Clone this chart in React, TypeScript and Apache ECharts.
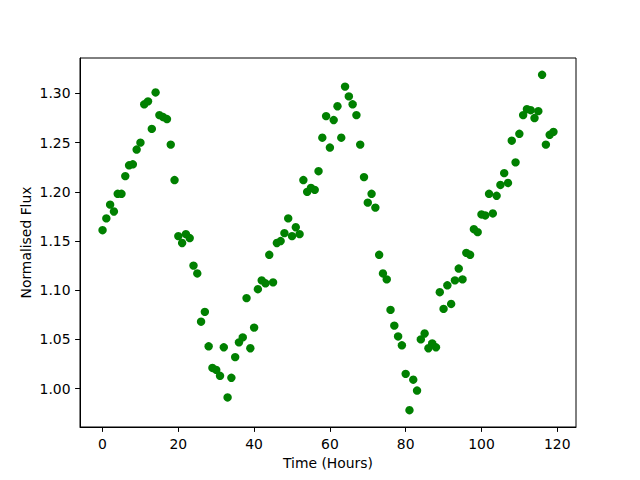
import React, { useEffect, useRef } from "react";
import * as echarts from "echarts";

const hours: number[] = Array.from({ length: 120 }, (_, i) => i);
const flux: number[] = [
  1.161, 1.173, 1.187, 1.18, 1.198, 1.198, 1.216, 1.227, 1.228, 1.243,
  1.25, 1.289, 1.292, 1.264, 1.301, 1.278, 1.276, 1.274, 1.248, 1.212,
  1.155, 1.148, 1.157, 1.153, 1.125, 1.117, 1.068, 1.078, 1.043, 1.021,
  1.019, 1.013, 1.042, 0.991, 1.011, 1.032, 1.047, 1.052, 1.092, 1.041,
  1.062, 1.101, 1.11, 1.107, 1.136, 1.108, 1.148, 1.15, 1.158, 1.173,
  1.155, 1.164, 1.157, 1.212, 1.2, 1.204, 1.202, 1.221, 1.255, 1.277,
  1.245, 1.273, 1.287, 1.255, 1.307, 1.297, 1.289, 1.278, 1.248, 1.215,
  1.189, 1.198, 1.184, 1.136, 1.117, 1.111, 1.08, 1.064, 1.053, 1.044,
  1.015, 0.978, 1.009, 0.998, 1.05, 1.056, 1.041, 1.046, 1.042, 1.098,
  1.081, 1.105, 1.086, 1.11, 1.122, 1.111, 1.138, 1.136, 1.162, 1.159,
  1.177, 1.176, 1.198, 1.178, 1.196, 1.207, 1.219, 1.209, 1.252, 1.23,
  1.259, 1.278, 1.284, 1.283, 1.275, 1.282, 1.319, 1.248, 1.258, 1.261,
];
const xTicks: number[] = [0, 20, 40, 60, 80, 100, 120];
const yTicks: number[] = [1.0, 1.05, 1.1, 1.15, 1.2, 1.25, 1.3];
const xLabel = "Time (Hours)";
const yLabel = "Normalised Flux";

export default function App() {
  const ref = useRef<HTMLDivElement>(null);
  useEffect(() => {
    if (!ref.current) return;
    const chart = echarts.init(ref.current, null, { renderer: "svg" });
    const font = "DejaVu Sans";
    const fs = 13.9;
    const xMin = Math.min(...hours), xMax = Math.max(...hours);
    const yMin = Math.min(...flux), yMax = Math.max(...flux);
    const xm = (xMax - xMin) * 0.05, ym = (yMax - yMin) * 0.05;
    chart.setOption({
      animation: false,
      backgroundColor: "#fff",
      textStyle: { fontFamily: font },
      grid: {
        left: 80, right: 64, top: 58, bottom: 53,
        show: true, borderColor: "#000", borderWidth: 1, backgroundColor: "transparent",
      },
      xAxis: {
        type: "value",
        min: xMin - xm,
        max: xMax + xm,
        splitLine: { show: false },
        axisLine: { show: true, onZero: false, lineStyle: { color: "#000", width: 1 } },
        axisTick: { show: true, customValues: xTicks, length: 4.9, lineStyle: { color: "#000" } },
        axisLabel: {
          customValues: xTicks, color: "#000", fontFamily: font, fontSize: fs, margin: 9.5,
          formatter: (v: number) => String(v),
        },
        name: xLabel,
        nameLocation: "middle",
        nameGap: 29,
        nameMoveOverlap: false,
        nameTextStyle: { color: "#000", fontFamily: font, fontSize: fs },
      },
      yAxis: {
        type: "value",
        min: yMin - ym,
        max: yMax + ym,
        splitLine: { show: false },
        axisLine: { show: true, onZero: false, lineStyle: { color: "#000", width: 1 } },
        axisTick: { show: true, customValues: yTicks, length: 4.9, lineStyle: { color: "#000" } },
        axisLabel: {
          customValues: yTicks, color: "#000", fontFamily: font, fontSize: fs, margin: 9.5,
          formatter: (v: number) => v.toFixed(2),
        },
        name: yLabel,
        nameLocation: "middle",
        nameGap: 47,
        nameRotate: 90,
        nameMoveOverlap: false,
        nameTextStyle: { color: "#000", fontFamily: font, fontSize: fs },
      },
      series: [
        {
          type: "scatter",
          data: hours.map((h, i) => [h, flux[i]]),
          symbol: "circle",
          symbolSize: 8.4,
          itemStyle: { color: "#008000", opacity: 1 },
          emphasis: { disabled: true },
        },
      ],
    });
    return () => chart.dispose();
  }, []);
  return (
    <div
      ref={ref}
      style={{ position: "fixed", left: 0, top: 0, width: 640, height: 480, background: "#fff" }}
    />
  );
}
